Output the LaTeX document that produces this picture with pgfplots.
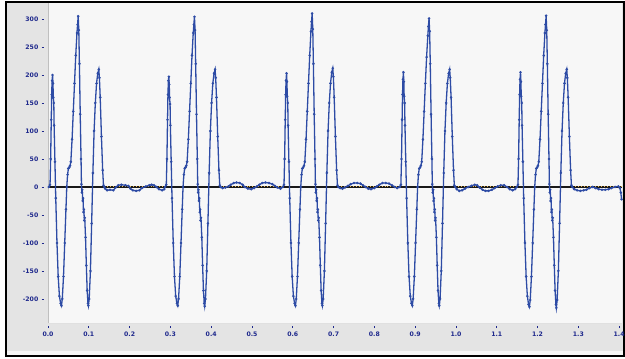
\documentclass[border=0pt]{standalone}
\usepackage{pgfplots}
\pgfplotsset{compat=1.18}
\usepackage{fontspec}
\setmainfont{DejaVu Sans}
\definecolor{lblue}{RGB}{30,40,140}
\definecolor{wave}{RGB}{45,75,165}
\definecolor{navy}{RGB}{15,25,95}
\definecolor{panel}{RGB}{228,228,228}
\definecolor{plotbg}{RGB}{247,247,247}
\definecolor{orng}{RGB}{235,185,80}
\begin{document}
\begin{tikzpicture}[x=1bp,y=1bp]
\useasboundingbox (0,0) rectangle (625,358);
\fill[white] (0,0) rectangle (625,358);
\fill[panel] (6,2) rectangle (624,356);
\fill[black!4] (7,2) rectangle (623,7);
\draw[black, line width=1.2bp] (6,2) rectangle (624,356);
\begin{axis}[
  at={(48bp,35bp)}, anchor=south west,
  scale only axis, width=574bp, height=320bp,
  xmin=0, xmax=1.407, ymin=-243, ymax=328.6,
  axis background/.style={fill=plotbg},
  axis line style={draw=none},
  clip=true,
  xtick={0,0.1,0.2,0.3,0.4,0.5,0.6,0.7,0.8,0.9,1.0,1.1,1.2,1.3,1.4},
  xticklabels={0.0,0.1,0.2,0.3,0.4,0.5,0.6,0.7,0.8,0.9,1.0,1.1,1.2,1.3,1.4},
  ytick={-200,-150,-100,-50,0,50,100,150,200,250,300},
  yticklabels={-200,-150,-100,-50,0,50,100,150,200,250,300},
  tick align=outside, major tick length=2.5bp,
  xtick style={draw=lblue, line width=0.7bp, yshift=-2.5bp},
  ytick style={draw=lblue, line width=0.7bp, xshift=-4bp},
  ticklabel style={font=\fontsize{6.2}{7}\selectfont\bfseries, text=lblue, inner sep=0pt},
  xticklabel style={yshift=-6bp},
  yticklabel style={xshift=-7bp},
  xtick pos=bottom, ytick pos=left,
  unbounded coords=jump,
]
\draw[black!25, line width=1.5bp] (rel axis cs:0,0) -- (rel axis cs:0,1);
\draw[black!12, line width=1bp] (rel axis cs:0,0) -- (rel axis cs:1,0);
\addplot[black!90, line width=1.6bp] coordinates {(0.0,0) (1.407,0)};
\addplot[orng, line width=0.9bp, dotted] coordinates {(0.138,0.5) (0.287,0.5) (0.423,nan) (0.423,0.5) (0.5755,0.5) (0.7115,nan) (0.7115,0.5) (0.862,0.5) (0.998,nan) (0.998,0.5) (1.149,0.5) (1.285,nan) (1.285,0.5) (1.407,0.5)};
\addplot[wave, line width=1.3bp, mark=*, mark size=0.5bp, mark options={draw=none, fill=navy}] coordinates {
(0.002,0) (0.005,4) (0.0065,50) (0.008,120) (0.009,165) (0.010,190) (0.0112,200) (0.0122,185) (0.013,160) (0.0142,150) (0.015,110) (0.017,45) (0.019,-20) (0.022,-100) (0.025,-160) (0.028,-195) (0.031,-208) (0.033,-212) (0.035,-200) (0.038,-160) (0.041,-100) (0.044,-40) (0.046,0) (0.048,22) (0.050,33) (0.052,35) (0.054,38) (0.056,45) (0.059,85) (0.062,135) (0.065,185) (0.068,235) (0.071,275) (0.0725,290) (0.074,305) (0.0755,280) (0.077,220) (0.079,130) (0.081,50) (0.082,5) (0.083,-10) (0.084,-5) (0.085,-25) (0.086,-20) (0.087,-45) (0.088,-40) (0.089,-60) (0.090,-55) (0.092,-90) (0.094,-140) (0.096,-185) (0.098,-208) (0.099,-212) (0.101,-200) (0.104,-150) (0.107,-65) (0.110,25) (0.113,100) (0.116,150) (0.119,185) (0.122,203) (0.1245,210) (0.126,195) (0.128,160) (0.131,90) (0.134,30) (0.136,3) (0.138,0)
(0.140,-3) (0.145,-6) (0.152,-5) (0.160,-6) (0.166,-1) (0.172,3) (0.180,4) (0.190,3) (0.197,2) (0.202,-3) (0.208,-6) (0.216,-7) (0.224,-6) (0.230,-2) (0.240,1) (0.248,3) (0.254,4) (0.260,3) (0.266,0) (0.272,-4) (0.280,-6) (0.285,-4)
(0.287,0) (0.290,4) (0.2915,50) (0.293,120) (0.294,165) (0.295,190) (0.2962,197) (0.2972,183) (0.298,160) (0.2992,148) (0.300,110) (0.302,45) (0.304,-20) (0.307,-100) (0.310,-160) (0.313,-195) (0.316,-208) (0.318,-212) (0.320,-200) (0.323,-160) (0.326,-100) (0.329,-40) (0.331,0) (0.333,22) (0.335,33) (0.337,35) (0.339,38) (0.341,45) (0.344,85) (0.347,135) (0.350,185) (0.353,235) (0.356,275) (0.3575,290) (0.359,304) (0.3605,280) (0.362,220) (0.364,130) (0.366,50) (0.367,5) (0.368,-10) (0.369,-5) (0.370,-25) (0.371,-20) (0.372,-45) (0.373,-40) (0.374,-60) (0.375,-55) (0.377,-90) (0.379,-140) (0.381,-185) (0.383,-208) (0.384,-213) (0.386,-200) (0.389,-150) (0.392,-65) (0.395,25) (0.398,100) (0.401,150) (0.404,185) (0.407,203) (0.4095,210) (0.411,195) (0.413,160) (0.416,90) (0.419,30) (0.421,3) (0.423,0)
(0.428,-2) (0.435,-1) (0.442,1) (0.448,4) (0.455,7) (0.462,8) (0.470,7) (0.477,4) (0.482,0) (0.490,-3) (0.498,-4) (0.505,-2) (0.512,1) (0.518,4) (0.525,7) (0.533,8) (0.542,7) (0.550,5) (0.556,2) (0.562,-1) (0.570,-3)
(0.5755,0) (0.5785,4) (0.580,50) (0.5815,120) (0.5825,165) (0.5835,190) (0.5847,203) (0.5857,188) (0.5865,162) (0.5877,150) (0.5885,110) (0.5905,45) (0.5925,-20) (0.5955,-100) (0.5985,-160) (0.6015,-195) (0.6045,-208) (0.6065,-212) (0.6085,-200) (0.6115,-160) (0.6145,-100) (0.6175,-40) (0.6195,0) (0.6215,22) (0.6235,33) (0.6255,35) (0.6275,38) (0.6295,45) (0.6325,85) (0.6355,135) (0.6385,185) (0.6415,235) (0.6445,278) (0.646,295) (0.6475,310) (0.649,282) (0.6505,220) (0.6525,130) (0.6545,50) (0.6555,5) (0.6565,-10) (0.6575,-5) (0.6585,-25) (0.6595,-20) (0.6605,-45) (0.6615,-40) (0.6625,-60) (0.6635,-55) (0.6655,-90) (0.6675,-140) (0.6695,-185) (0.6715,-208) (0.6725,-212) (0.6745,-200) (0.6775,-150) (0.6805,-65) (0.6835,25) (0.6865,100) (0.6895,150) (0.6925,185) (0.6955,205) (0.698,212) (0.6995,197) (0.7015,160) (0.7045,90) (0.7075,30) (0.7095,3) (0.7115,0)
(0.716,-2) (0.722,-3) (0.728,-1) (0.735,2) (0.742,5) (0.750,7) (0.758,7) (0.766,6) (0.772,3) (0.778,0) (0.785,-3) (0.792,-4) (0.800,-2) (0.806,1) (0.812,4) (0.820,7) (0.828,7) (0.836,6) (0.843,3) (0.850,0) (0.856,-2)
(0.862,0) (0.865,4) (0.8665,50) (0.868,120) (0.869,165) (0.870,192) (0.8712,205) (0.8722,188) (0.873,162) (0.8742,150) (0.875,110) (0.877,45) (0.879,-20) (0.882,-100) (0.885,-160) (0.888,-195) (0.891,-208) (0.893,-212) (0.895,-200) (0.898,-160) (0.901,-100) (0.904,-40) (0.906,0) (0.908,22) (0.910,33) (0.912,35) (0.914,38) (0.916,45) (0.919,85) (0.922,135) (0.925,185) (0.928,232) (0.931,270) (0.9325,287) (0.934,301) (0.9355,278) (0.937,220) (0.939,130) (0.941,50) (0.942,5) (0.943,-10) (0.944,-5) (0.945,-25) (0.946,-20) (0.947,-45) (0.948,-40) (0.949,-60) (0.950,-55) (0.952,-90) (0.954,-140) (0.956,-185) (0.958,-208) (0.959,-212) (0.961,-200) (0.964,-150) (0.967,-65) (0.970,25) (0.973,100) (0.976,150) (0.979,185) (0.982,203) (0.9845,210) (0.986,195) (0.988,160) (0.991,90) (0.994,30) (0.996,3) (0.998,0)
(1.002,-4) (1.008,-7) (1.015,-6) (1.022,-3) (1.030,0) (1.038,2) (1.046,4) (1.052,3) (1.058,-1) (1.065,-5) (1.072,-7) (1.080,-7) (1.088,-5) (1.095,-2) (1.102,1) (1.110,3) (1.118,3) (1.125,0) (1.132,-4) (1.139,-6) (1.145,-4)
(1.149,0) (1.152,4) (1.1535,50) (1.155,120) (1.156,165) (1.157,192) (1.1582,205) (1.1592,188) (1.160,162) (1.1612,150) (1.162,110) (1.164,45) (1.166,-20) (1.169,-100) (1.172,-160) (1.175,-195) (1.178,-210) (1.180,-214) (1.182,-202) (1.185,-160) (1.188,-100) (1.191,-40) (1.193,0) (1.195,22) (1.197,33) (1.199,35) (1.201,38) (1.203,45) (1.206,85) (1.209,135) (1.212,185) (1.215,235) (1.218,275) (1.2195,290) (1.221,306) (1.2225,280) (1.224,220) (1.226,130) (1.228,50) (1.229,5) (1.230,-10) (1.231,-5) (1.232,-25) (1.233,-20) (1.234,-45) (1.235,-40) (1.236,-60) (1.237,-55) (1.239,-90) (1.241,-140) (1.243,-185) (1.245,-210) (1.246,-216) (1.248,-202) (1.251,-150) (1.254,-65) (1.257,25) (1.260,100) (1.263,150) (1.266,185) (1.269,203) (1.2715,210) (1.273,195) (1.275,160) (1.278,90) (1.281,30) (1.283,3) (1.285,0)
(1.290,-4) (1.297,-6) (1.305,-7) (1.313,-6) (1.320,-5) (1.327,-2) (1.335,0) (1.342,-2) (1.350,-4) (1.358,-5) (1.366,-5) (1.374,-4) (1.381,-2) (1.390,0) (1.398,1) (1.402,-2) (1.404,-10) (1.406,-22)
};
\end{axis}
\end{tikzpicture}
\end{document}
